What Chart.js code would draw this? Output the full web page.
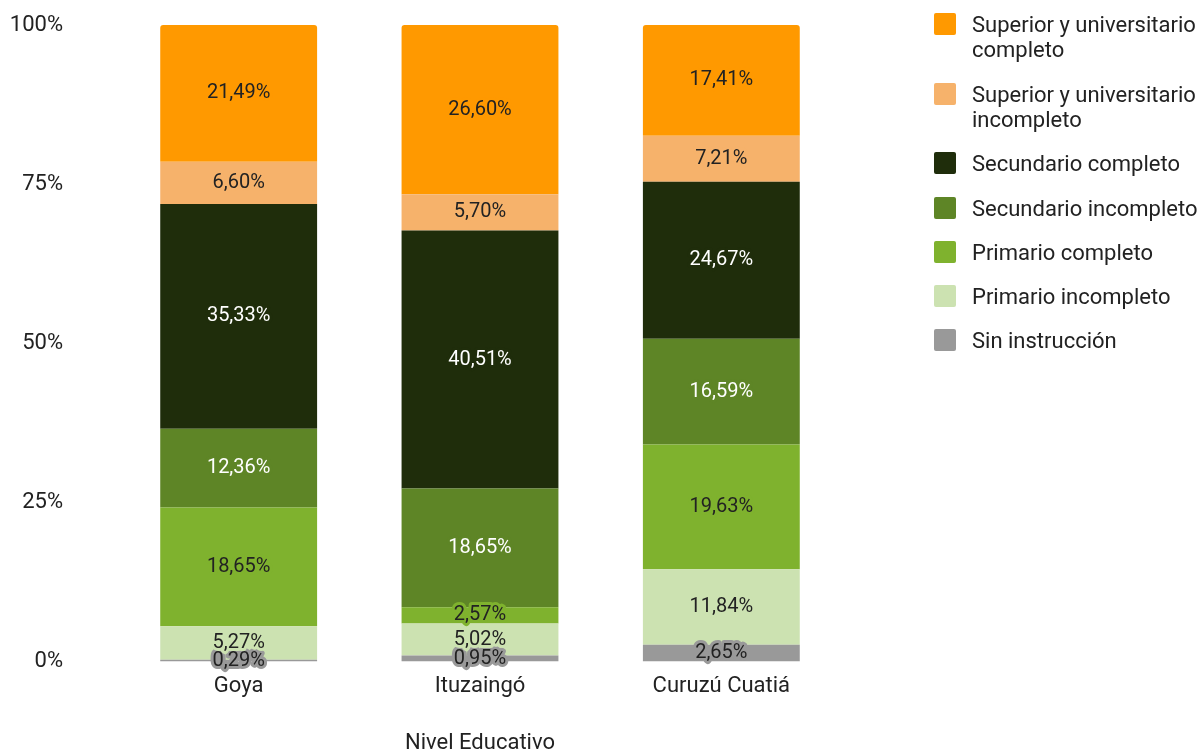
<!DOCTYPE html>
<html>
<head>
<meta charset="utf-8">
<script src="https://cdn.jsdelivr.net/npm/chart.js@4"></script>
<style>
  body { margin: 0; background: #fff; font-family: Roboto, sans-serif; }
  #wrap { position: relative; width: 1199px; height: 751px; }
  #legend { position: absolute; left: 934px; top: 0; color: #222; font-size: 22px; }
  .item { position: absolute; left: 0; width: 265px; }
  .box { position: absolute; left: 0; width: 22px; height: 22px; border-radius: 2px; }
  .txt { position: absolute; left: 38px; line-height: 25px; white-space: nowrap; }
</style>
</head>
<body>
<div id="wrap">
  <canvas id="chart" width="1199" height="751"></canvas>
  <div id="legend"></div>
</div>
<script>
// Categories and series (bottom of stack first)
const categories = ["Goya", "Ituzaingó", "Curuzú Cuatiá"];
const seriesNames = [
  "Sin instrucción",
  "Primario incompleto",
  "Primario completo",
  "Secundario incompleto",
  "Secundario completo",
  "Superior y universitario incompleto",
  "Superior y universitario completo"
];
const sinInstruccion = [0.29, 0.95, 2.65];
const primarioIncompleto = [5.27, 5.02, 11.84];
const primarioCompleto = [18.65, 2.57, 19.63];
const secundarioIncompleto = [12.36, 18.65, 16.59];
const secundarioCompleto = [35.33, 40.51, 24.67];
const superiorIncompleto = [6.60, 5.70, 7.21];
const superiorCompleto = [21.49, 26.60, 17.41];
const yTicks = [0, 25, 50, 75, 100];

const seriesValues = [sinInstruccion, primarioIncompleto, primarioCompleto,
  secundarioIncompleto, secundarioCompleto, superiorIncompleto, superiorCompleto];
const colors = ["#999999", "#cce2b1", "#7fb22e", "#5e8526", "#1f2d0b", "#f6b26b", "#ff9900"];
const labelColors = ["#222", "#222", "#222", "#fff", "#fff", "#222", "#222"];

const datasets = seriesNames.map(function (name, i) {
  return {
    label: name,
    data: seriesValues[i],
    backgroundColor: colors[i],
    borderWidth: 0,
    borderSkipped: false,
    borderRadius: i === seriesNames.length - 1 ? { topLeft: 3, topRight: 3, bottomLeft: 0, bottomRight: 0 } : 0,
    barPercentage: 1,
    categoryPercentage: 0.65
  };
});

// Value labels inside each segment, with a halo of the segment colour
const valueLabels = {
  id: "valueLabels",
  afterDatasetsDraw: function (chart) {
    const ctx = chart.ctx;
    ctx.save();
    ctx.font = "20px Roboto";
    ctx.textAlign = "center";
    ctx.textBaseline = "middle";
    ctx.lineJoin = "round";
    chart.data.datasets.forEach(function (ds, i) {
      const meta = chart.getDatasetMeta(i);
      meta.data.forEach(function (bar, j) {
        const txt = ds.data[j].toFixed(2).replace(".", ",") + "%";
        const y = (bar.y + bar.base) / 2;
        ctx.lineWidth = 6;
        ctx.strokeStyle = colors[i];
        ctx.strokeText(txt, bar.x, y);
        ctx.fillStyle = labelColors[i];
        ctx.fillText(txt, bar.x, y);
      });
    });
    ctx.restore();
  }
};

new Chart(document.getElementById("chart"), {
  type: "bar",
  data: { labels: categories, datasets: datasets },
  options: {
    responsive: false,
    animation: false,
    layout: { padding: { left: 10, right: 357, top: 25, bottom: 0 } },
    plugins: { legend: { display: false }, tooltip: { enabled: false } },
    scales: {
      x: {
        stacked: true,
        grid: { display: false, drawTicks: false },
        border: { display: false },
        ticks: { color: "#222", font: { family: "Roboto", size: 22 }, padding: 12 },
        title: { display: true, text: "Nivel Educativo", color: "#222",
          font: { family: "Roboto", size: 22, lineHeight: 1 }, padding: { top: 20, bottom: -3 } }
      },
      y: {
        stacked: true,
        min: 0,
        max: 100,
        afterBuildTicks: function (scale) {
          scale.ticks = yTicks.map(function (v) { return { value: v }; });
        },
        afterFit: function (scale) {
          scale.width = 108;
          scale.paddingTop = 0;
          scale.paddingBottom = 0;
        },
        grid: { display: false, drawTicks: false },
        border: { display: false },
        ticks: {
          color: "#222",
          font: { family: "Roboto", size: 22 },
          padding: 55,
          callback: function (v) { return v + "%"; }
        }
      }
    }
  },
  plugins: [valueLabels]
});

// Legend (top item = top of stack)
const legendTops = [13, 83, 152, 197, 241, 285, 329];
const legendLines = [
  ["Superior y universitario", "completo"],
  ["Superior y universitario", "incompleto"],
  ["Secundario completo"],
  ["Secundario incompleto"],
  ["Primario completo"],
  ["Primario incompleto"],
  ["Sin instrucción"]
];
const legend = document.getElementById("legend");
legendLines.forEach(function (lines, k) {
  const idx = seriesNames.length - 1 - k;
  const item = document.createElement("div");
  item.className = "item";
  item.style.top = legendTops[k] + "px";
  item.innerHTML = '<div class="box" style="background:' + colors[idx] + '"></div>' +
    '<div class="txt" style="top:-1px">' + lines.join("<br>") + "</div>";
  legend.appendChild(item);
});
</script>
</body>
</html>
